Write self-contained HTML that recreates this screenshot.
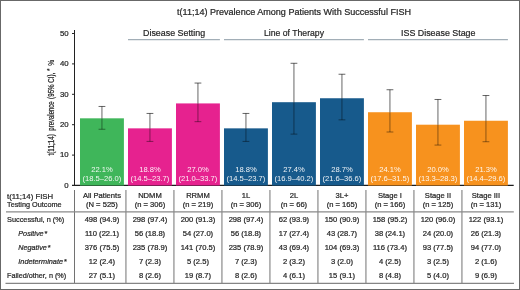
<!DOCTYPE html><html><head><meta charset="utf-8"><style>html,body{margin:0;padding:0;background:#fff;}svg{display:block;}text{font-family:"Liberation Sans",sans-serif;stroke-width:0.22px;}svg{will-change:transform}</style></head><body>
<svg width="520" height="290" viewBox="0 0 520 290">
<rect x="0" y="0" width="520" height="290" fill="#fff"/>
<line x1="72" y1="185.4" x2="513.7" y2="185.4" stroke="#1c1c1c" stroke-width="1.1"/>
<rect x="80.0" y="118.32" width="43.9" height="67.18" fill="#3fb65a"/>
<rect x="128.0" y="128.35" width="43.9" height="57.15" fill="#e6228f"/>
<rect x="176.0" y="103.42" width="43.9" height="82.08" fill="#e6228f"/>
<rect x="224.0" y="128.35" width="43.9" height="57.15" fill="#175a8c"/>
<rect x="272.0" y="102.20" width="43.9" height="83.30" fill="#175a8c"/>
<rect x="320.0" y="98.25" width="43.9" height="87.25" fill="#175a8c"/>
<rect x="368.0" y="112.24" width="43.9" height="73.26" fill="#f7921e"/>
<rect x="416.0" y="124.70" width="43.9" height="60.80" fill="#f7921e"/>
<rect x="464.0" y="120.75" width="43.9" height="64.75" fill="#f7921e"/>
<line x1="128" y1="39.7" x2="219.9" y2="39.7" stroke="#a2aeb7" stroke-width="1.2"/>
<line x1="224" y1="39.7" x2="363.9" y2="39.7" stroke="#a2aeb7" stroke-width="1.2"/>
<line x1="368" y1="39.7" x2="507.9" y2="39.7" stroke="#a2aeb7" stroke-width="1.2"/>
<line x1="74.5" y1="30" x2="74.5" y2="186" stroke="#222" stroke-width="1"/>
<line x1="72" y1="185.50" x2="74.5" y2="185.50" stroke="#222" stroke-width="1"/>
<line x1="72" y1="155.10" x2="74.5" y2="155.10" stroke="#222" stroke-width="1"/>
<line x1="72" y1="124.70" x2="74.5" y2="124.70" stroke="#222" stroke-width="1"/>
<line x1="72" y1="94.30" x2="74.5" y2="94.30" stroke="#222" stroke-width="1"/>
<line x1="72" y1="63.90" x2="74.5" y2="63.90" stroke="#222" stroke-width="1"/>
<line x1="72" y1="33.50" x2="74.5" y2="33.50" stroke="#222" stroke-width="1"/>
<g stroke="#000" stroke-opacity="0.6" stroke-width="1"><line x1="101.95" y1="106.46" x2="101.95" y2="118.32"/><line x1="98.55" y1="106.46" x2="105.35" y2="106.46"/></g>
<g stroke="#000" stroke-opacity="0.42" stroke-width="1"><line x1="101.95" y1="118.32" x2="101.95" y2="129.26"/><line x1="98.55" y1="129.26" x2="105.35" y2="129.26"/></g>
<g stroke="#000" stroke-opacity="0.6" stroke-width="1"><line x1="149.95" y1="113.45" x2="149.95" y2="128.35"/><line x1="146.55" y1="113.45" x2="153.35" y2="113.45"/></g>
<g stroke="#000" stroke-opacity="0.42" stroke-width="1"><line x1="149.95" y1="128.35" x2="149.95" y2="141.42"/><line x1="146.55" y1="141.42" x2="153.35" y2="141.42"/></g>
<g stroke="#000" stroke-opacity="0.6" stroke-width="1"><line x1="197.95" y1="83.05" x2="197.95" y2="103.42"/><line x1="194.55" y1="83.05" x2="201.35" y2="83.05"/></g>
<g stroke="#000" stroke-opacity="0.42" stroke-width="1"><line x1="197.95" y1="103.42" x2="197.95" y2="121.66"/><line x1="194.55" y1="121.66" x2="201.35" y2="121.66"/></g>
<g stroke="#000" stroke-opacity="0.6" stroke-width="1"><line x1="245.95" y1="113.45" x2="245.95" y2="128.35"/><line x1="242.55" y1="113.45" x2="249.35" y2="113.45"/></g>
<g stroke="#000" stroke-opacity="0.42" stroke-width="1"><line x1="245.95" y1="128.35" x2="245.95" y2="141.42"/><line x1="242.55" y1="141.42" x2="249.35" y2="141.42"/></g>
<g stroke="#000" stroke-opacity="0.6" stroke-width="1"><line x1="293.95" y1="63.29" x2="293.95" y2="102.20"/><line x1="290.55" y1="63.29" x2="297.35" y2="63.29"/></g>
<g stroke="#000" stroke-opacity="0.42" stroke-width="1"><line x1="293.95" y1="102.20" x2="293.95" y2="134.12"/><line x1="290.55" y1="134.12" x2="297.35" y2="134.12"/></g>
<g stroke="#000" stroke-opacity="0.6" stroke-width="1"><line x1="341.95" y1="74.24" x2="341.95" y2="98.25"/><line x1="338.55" y1="74.24" x2="345.35" y2="74.24"/></g>
<g stroke="#000" stroke-opacity="0.42" stroke-width="1"><line x1="341.95" y1="98.25" x2="341.95" y2="119.84"/><line x1="338.55" y1="119.84" x2="345.35" y2="119.84"/></g>
<g stroke="#000" stroke-opacity="0.6" stroke-width="1"><line x1="389.95" y1="89.74" x2="389.95" y2="112.24"/><line x1="386.55" y1="89.74" x2="393.35" y2="89.74"/></g>
<g stroke="#000" stroke-opacity="0.42" stroke-width="1"><line x1="389.95" y1="112.24" x2="389.95" y2="132.00"/><line x1="386.55" y1="132.00" x2="393.35" y2="132.00"/></g>
<g stroke="#000" stroke-opacity="0.6" stroke-width="1"><line x1="437.95" y1="99.47" x2="437.95" y2="124.70"/><line x1="434.55" y1="99.47" x2="441.35" y2="99.47"/></g>
<g stroke="#000" stroke-opacity="0.42" stroke-width="1"><line x1="437.95" y1="124.70" x2="437.95" y2="145.07"/><line x1="434.55" y1="145.07" x2="441.35" y2="145.07"/></g>
<g stroke="#000" stroke-opacity="0.6" stroke-width="1"><line x1="485.95" y1="95.52" x2="485.95" y2="120.75"/><line x1="482.55" y1="95.52" x2="489.35" y2="95.52"/></g>
<g stroke="#000" stroke-opacity="0.42" stroke-width="1"><line x1="485.95" y1="120.75" x2="485.95" y2="141.72"/><line x1="482.55" y1="141.72" x2="489.35" y2="141.72"/></g>
<line x1="74.50" y1="190" x2="74.50" y2="283" stroke="#727272" stroke-width="1"/>
<line x1="125.95" y1="190" x2="125.95" y2="283" stroke="#727272" stroke-width="1"/>
<line x1="173.95" y1="190" x2="173.95" y2="283" stroke="#727272" stroke-width="1"/>
<line x1="221.95" y1="190" x2="221.95" y2="283" stroke="#727272" stroke-width="1"/>
<line x1="269.95" y1="190" x2="269.95" y2="283" stroke="#727272" stroke-width="1"/>
<line x1="317.95" y1="190" x2="317.95" y2="283" stroke="#727272" stroke-width="1"/>
<line x1="365.95" y1="190" x2="365.95" y2="283" stroke="#727272" stroke-width="1"/>
<line x1="413.95" y1="190" x2="413.95" y2="283" stroke="#727272" stroke-width="1"/>
<line x1="461.95" y1="190" x2="461.95" y2="283" stroke="#727272" stroke-width="1"/>
<line x1="6" y1="211.9" x2="513.8" y2="211.9" stroke="#8a8a8a" stroke-width="1.3"/>
<line x1="5.5" y1="283.4" x2="514" y2="283.4" stroke="#858585" stroke-width="1.25"/>
<g class="g">
<text x="177" y="14.7" font-size="8.8" fill="#262626" stroke="#262626" textLength="234" lengthAdjust="spacingAndGlyphs">t(11;14) Prevalence Among Patients With Successful FISH</text>
<text x="143" y="36.4" font-size="9.2" fill="#262626" stroke="#262626" textLength="62.2" lengthAdjust="spacingAndGlyphs">Disease Setting</text>
<text x="264" y="36.4" font-size="9.2" fill="#262626" stroke="#262626" textLength="60.0" lengthAdjust="spacingAndGlyphs">Line of Therapy</text>
<text x="401" y="36.4" font-size="9.2" fill="#262626" stroke="#262626" textLength="74.5" lengthAdjust="spacingAndGlyphs">ISS Disease Stage</text>
<text x="68.6" y="187.80" font-size="7.8" fill="#262626" stroke="#262626" stroke-width="0.15" text-anchor="end">0</text>
<text x="68.6" y="157.40" font-size="7.8" fill="#262626" stroke="#262626" stroke-width="0.15" text-anchor="end">10</text>
<text x="68.6" y="127.00" font-size="7.8" fill="#262626" stroke="#262626" stroke-width="0.15" text-anchor="end">20</text>
<text x="68.6" y="96.60" font-size="7.8" fill="#262626" stroke="#262626" stroke-width="0.15" text-anchor="end">30</text>
<text x="68.6" y="66.20" font-size="7.8" fill="#262626" stroke="#262626" stroke-width="0.15" text-anchor="end">40</text>
<text x="68.6" y="35.80" font-size="7.8" fill="#262626" stroke="#262626" stroke-width="0.15" text-anchor="end">50</text>
<g transform="translate(53.9,155.6) rotate(-90)">
<text x="0.1" y="0" font-size="8.4" fill="#262626" stroke="#262626" stroke-width="0.42" textLength="21.3" lengthAdjust="spacingAndGlyphs">t(11;14)</text>
<text x="24.9" y="0" font-size="8.4" fill="#262626" stroke="#262626" stroke-width="0.42" textLength="29.4" lengthAdjust="spacingAndGlyphs">prevalence</text>
<text x="56.7" y="0" font-size="8.4" fill="#262626" stroke="#262626" stroke-width="0.42" textLength="26.3" lengthAdjust="spacingAndGlyphs">(95% CI),</text>
<text x="89.8" y="0" font-size="8.4" fill="#262626" stroke="#262626" stroke-width="0.42" textLength="5.9" lengthAdjust="spacingAndGlyphs">%</text>
<text x="84.6" y="-1.6" font-size="6.5" fill="#262626" stroke="#262626">*</text>
</g>
<text x="101.95" y="172.2" font-size="7.6" fill="#fff" fill-opacity="0.92" stroke="none" text-anchor="middle">22.1%</text>
<text x="101.95" y="180.6" font-size="7.6" fill="#fff" fill-opacity="0.92" stroke="none" text-anchor="middle">(18.5–26.0)</text>
<text x="149.95" y="172.2" font-size="7.6" fill="#fff" fill-opacity="0.92" stroke="none" text-anchor="middle">18.8%</text>
<text x="149.95" y="180.6" font-size="7.6" fill="#fff" fill-opacity="0.92" stroke="none" text-anchor="middle">(14.5–23.7)</text>
<text x="197.95" y="172.2" font-size="7.6" fill="#fff" fill-opacity="0.92" stroke="none" text-anchor="middle">27.0%</text>
<text x="197.95" y="180.6" font-size="7.6" fill="#fff" fill-opacity="0.92" stroke="none" text-anchor="middle">(21.0–33.7)</text>
<text x="245.95" y="172.2" font-size="7.6" fill="#fff" fill-opacity="0.92" stroke="none" text-anchor="middle">18.8%</text>
<text x="245.95" y="180.6" font-size="7.6" fill="#fff" fill-opacity="0.92" stroke="none" text-anchor="middle">(14.5–23.7)</text>
<text x="293.95" y="172.2" font-size="7.6" fill="#fff" fill-opacity="0.92" stroke="none" text-anchor="middle">27.4%</text>
<text x="293.95" y="180.6" font-size="7.6" fill="#fff" fill-opacity="0.92" stroke="none" text-anchor="middle">(16.9–40.2)</text>
<text x="341.95" y="172.2" font-size="7.6" fill="#fff" fill-opacity="0.92" stroke="none" text-anchor="middle">28.7%</text>
<text x="341.95" y="180.6" font-size="7.6" fill="#fff" fill-opacity="0.92" stroke="none" text-anchor="middle">(21.6–36.6)</text>
<text x="389.95" y="172.2" font-size="7.6" fill="#fff" fill-opacity="0.92" stroke="none" text-anchor="middle">24.1%</text>
<text x="389.95" y="180.6" font-size="7.6" fill="#fff" fill-opacity="0.92" stroke="none" text-anchor="middle">(17.6–31.5)</text>
<text x="437.95" y="172.2" font-size="7.6" fill="#fff" fill-opacity="0.92" stroke="none" text-anchor="middle">20.0%</text>
<text x="437.95" y="180.6" font-size="7.6" fill="#fff" fill-opacity="0.92" stroke="none" text-anchor="middle">(13.3–28.3)</text>
<text x="485.95" y="172.2" font-size="7.6" fill="#fff" fill-opacity="0.92" stroke="none" text-anchor="middle">21.3%</text>
<text x="485.95" y="180.6" font-size="7.6" fill="#fff" fill-opacity="0.92" stroke="none" text-anchor="middle">(14.4–29.6)</text>
<text x="7" y="198.6" font-size="7.6" fill="#262626" stroke="#262626" textLength="46.1" lengthAdjust="spacingAndGlyphs">t(11;14) FISH</text>
<text x="7" y="206.8" font-size="7.6" fill="#262626" stroke="#262626" textLength="54.6" lengthAdjust="spacingAndGlyphs">Testing Outcome</text>
<text x="101.95" y="198.3" font-size="7.6" fill="#262626" stroke="#262626" text-anchor="middle">All Patients</text>
<text x="101.95" y="206.8" font-size="7.6" fill="#262626" stroke="#262626" text-anchor="middle">(N = 525)</text>
<text x="149.95" y="198.3" font-size="7.6" fill="#262626" stroke="#262626" text-anchor="middle">NDMM</text>
<text x="149.95" y="206.8" font-size="7.6" fill="#262626" stroke="#262626" text-anchor="middle">(n = 306)</text>
<text x="197.95" y="198.3" font-size="7.6" fill="#262626" stroke="#262626" text-anchor="middle">RRMM</text>
<text x="197.95" y="206.8" font-size="7.6" fill="#262626" stroke="#262626" text-anchor="middle">(n = 219)</text>
<text x="245.95" y="198.3" font-size="7.6" fill="#262626" stroke="#262626" text-anchor="middle">1L</text>
<text x="245.95" y="206.8" font-size="7.6" fill="#262626" stroke="#262626" text-anchor="middle">(n = 306)</text>
<text x="293.95" y="198.3" font-size="7.6" fill="#262626" stroke="#262626" text-anchor="middle">2L</text>
<text x="293.95" y="206.8" font-size="7.6" fill="#262626" stroke="#262626" text-anchor="middle">(n = 66)</text>
<text x="341.95" y="198.3" font-size="7.6" fill="#262626" stroke="#262626" text-anchor="middle">3L+</text>
<text x="341.95" y="206.8" font-size="7.6" fill="#262626" stroke="#262626" text-anchor="middle">(n = 165)</text>
<text x="389.95" y="198.3" font-size="7.6" fill="#262626" stroke="#262626" text-anchor="middle">Stage I</text>
<text x="389.95" y="206.8" font-size="7.6" fill="#262626" stroke="#262626" text-anchor="middle">(n = 166)</text>
<text x="437.95" y="198.3" font-size="7.6" fill="#262626" stroke="#262626" text-anchor="middle">Stage II</text>
<text x="437.95" y="206.8" font-size="7.6" fill="#262626" stroke="#262626" text-anchor="middle">(n = 125)</text>
<text x="485.95" y="198.3" font-size="7.6" fill="#262626" stroke="#262626" text-anchor="middle">Stage III</text>
<text x="485.95" y="206.8" font-size="7.6" fill="#262626" stroke="#262626" text-anchor="middle">(n = 131)</text>
<text x="7.0" y="222.1" font-size="7.6" fill="#262626" stroke="#262626" textLength="57.2" lengthAdjust="spacingAndGlyphs">Successful, n (%)</text>
<text x="101.95" y="222.1" font-size="7.6" fill="#262626" stroke="#262626" text-anchor="middle">498 (94.9)</text>
<text x="149.95" y="222.1" font-size="7.6" fill="#262626" stroke="#262626" text-anchor="middle">298 (97.4)</text>
<text x="197.95" y="222.1" font-size="7.6" fill="#262626" stroke="#262626" text-anchor="middle">200 (91.3)</text>
<text x="245.95" y="222.1" font-size="7.6" fill="#262626" stroke="#262626" text-anchor="middle">298 (97.4)</text>
<text x="293.95" y="222.1" font-size="7.6" fill="#262626" stroke="#262626" text-anchor="middle">62 (93.9)</text>
<text x="341.95" y="222.1" font-size="7.6" fill="#262626" stroke="#262626" text-anchor="middle">150 (90.9)</text>
<text x="389.95" y="222.1" font-size="7.6" fill="#262626" stroke="#262626" text-anchor="middle">158 (95.2)</text>
<text x="437.95" y="222.1" font-size="7.6" fill="#262626" stroke="#262626" text-anchor="middle">120 (96.0)</text>
<text x="485.95" y="222.1" font-size="7.6" fill="#262626" stroke="#262626" text-anchor="middle">122 (93.1)</text>
<text x="18.3" y="235.7" font-size="8.0" font-style="italic" fill="#262626" stroke="#262626" stroke-width="0.12" textLength="25.3" lengthAdjust="spacingAndGlyphs">Positive</text>
<text x="44.6" y="236.0" font-size="7.6" fill="#262626" stroke="#262626">*</text>
<text x="101.95" y="235.7" font-size="7.6" fill="#262626" stroke="#262626" text-anchor="middle">110 (22.1)</text>
<text x="149.95" y="235.7" font-size="7.6" fill="#262626" stroke="#262626" text-anchor="middle">56 (18.8)</text>
<text x="197.95" y="235.7" font-size="7.6" fill="#262626" stroke="#262626" text-anchor="middle">54 (27.0)</text>
<text x="245.95" y="235.7" font-size="7.6" fill="#262626" stroke="#262626" text-anchor="middle">56 (18.8)</text>
<text x="293.95" y="235.7" font-size="7.6" fill="#262626" stroke="#262626" text-anchor="middle">17 (27.4)</text>
<text x="341.95" y="235.7" font-size="7.6" fill="#262626" stroke="#262626" text-anchor="middle">43 (28.7)</text>
<text x="389.95" y="235.7" font-size="7.6" fill="#262626" stroke="#262626" text-anchor="middle">38 (24.1)</text>
<text x="437.95" y="235.7" font-size="7.6" fill="#262626" stroke="#262626" text-anchor="middle">24 (20.0)</text>
<text x="485.95" y="235.7" font-size="7.6" fill="#262626" stroke="#262626" text-anchor="middle">26 (21.3)</text>
<text x="18.3" y="249.9" font-size="8.0" font-style="italic" fill="#262626" stroke="#262626" stroke-width="0.12" textLength="28.5" lengthAdjust="spacingAndGlyphs">Negative</text>
<text x="47.8" y="250.2" font-size="7.6" fill="#262626" stroke="#262626">*</text>
<text x="101.95" y="249.9" font-size="7.6" fill="#262626" stroke="#262626" text-anchor="middle">376 (75.5)</text>
<text x="149.95" y="249.9" font-size="7.6" fill="#262626" stroke="#262626" text-anchor="middle">235 (78.9)</text>
<text x="197.95" y="249.9" font-size="7.6" fill="#262626" stroke="#262626" text-anchor="middle">141 (70.5)</text>
<text x="245.95" y="249.9" font-size="7.6" fill="#262626" stroke="#262626" text-anchor="middle">235 (78.9)</text>
<text x="293.95" y="249.9" font-size="7.6" fill="#262626" stroke="#262626" text-anchor="middle">43 (69.4)</text>
<text x="341.95" y="249.9" font-size="7.6" fill="#262626" stroke="#262626" text-anchor="middle">104 (69.3)</text>
<text x="389.95" y="249.9" font-size="7.6" fill="#262626" stroke="#262626" text-anchor="middle">116 (73.4)</text>
<text x="437.95" y="249.9" font-size="7.6" fill="#262626" stroke="#262626" text-anchor="middle">93 (77.5)</text>
<text x="485.95" y="249.9" font-size="7.6" fill="#262626" stroke="#262626" text-anchor="middle">94 (77.0)</text>
<text x="18.3" y="263.9" font-size="8.0" font-style="italic" fill="#262626" stroke="#262626" stroke-width="0.12" textLength="44.7" lengthAdjust="spacingAndGlyphs">Indeterminate</text>
<text x="64.0" y="264.2" font-size="7.6" fill="#262626" stroke="#262626">*</text>
<text x="101.95" y="263.9" font-size="7.6" fill="#262626" stroke="#262626" text-anchor="middle">12 (2.4)</text>
<text x="149.95" y="263.9" font-size="7.6" fill="#262626" stroke="#262626" text-anchor="middle">7 (2.3)</text>
<text x="197.95" y="263.9" font-size="7.6" fill="#262626" stroke="#262626" text-anchor="middle">5 (2.5)</text>
<text x="245.95" y="263.9" font-size="7.6" fill="#262626" stroke="#262626" text-anchor="middle">7 (2.3)</text>
<text x="293.95" y="263.9" font-size="7.6" fill="#262626" stroke="#262626" text-anchor="middle">2 (3.2)</text>
<text x="341.95" y="263.9" font-size="7.6" fill="#262626" stroke="#262626" text-anchor="middle">3 (2.0)</text>
<text x="389.95" y="263.9" font-size="7.6" fill="#262626" stroke="#262626" text-anchor="middle">4 (2.5)</text>
<text x="437.95" y="263.9" font-size="7.6" fill="#262626" stroke="#262626" text-anchor="middle">3 (2.5)</text>
<text x="485.95" y="263.9" font-size="7.6" fill="#262626" stroke="#262626" text-anchor="middle">2 (1.6)</text>
<text x="7.0" y="278.0" font-size="7.6" fill="#262626" stroke="#262626" textLength="59.2" lengthAdjust="spacingAndGlyphs">Failed/other, n (%)</text>
<text x="101.95" y="278.0" font-size="7.6" fill="#262626" stroke="#262626" text-anchor="middle">27 (5.1)</text>
<text x="149.95" y="278.0" font-size="7.6" fill="#262626" stroke="#262626" text-anchor="middle">8 (2.6)</text>
<text x="197.95" y="278.0" font-size="7.6" fill="#262626" stroke="#262626" text-anchor="middle">19 (8.7)</text>
<text x="245.95" y="278.0" font-size="7.6" fill="#262626" stroke="#262626" text-anchor="middle">8 (2.6)</text>
<text x="293.95" y="278.0" font-size="7.6" fill="#262626" stroke="#262626" text-anchor="middle">4 (6.1)</text>
<text x="341.95" y="278.0" font-size="7.6" fill="#262626" stroke="#262626" text-anchor="middle">15 (9.1)</text>
<text x="389.95" y="278.0" font-size="7.6" fill="#262626" stroke="#262626" text-anchor="middle">8 (4.8)</text>
<text x="437.95" y="278.0" font-size="7.6" fill="#262626" stroke="#262626" text-anchor="middle">5 (4.0)</text>
<text x="485.95" y="278.0" font-size="7.6" fill="#262626" stroke="#262626" text-anchor="middle">9 (6.9)</text>
</g>
<rect x="0.5" y="0.5" width="519" height="289" fill="none" stroke="#686868" stroke-width="1"/>
</svg></body></html>
